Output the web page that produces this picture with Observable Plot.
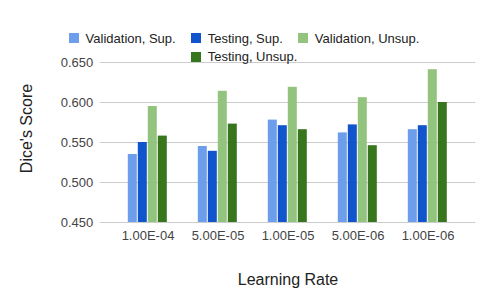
<!DOCTYPE html>
<html><head><meta charset="utf-8">
<script src="https://cdn.jsdelivr.net/npm/d3@7"></script>
<script src="https://cdn.jsdelivr.net/npm/@observablehq/plot@0.6"></script>
<style>
body{margin:0;background:#fff;font-family:Arial,"Liberation Sans",sans-serif;}
#wrap{position:relative;width:491px;height:303px;}
#wrap svg{position:absolute;left:0;top:0;}
#legend{position:absolute;left:59px;top:29px;width:370px;display:flex;flex-wrap:wrap;justify-content:center;font-size:13px;color:#222;}
.item{display:flex;align-items:center;margin:0 7.5px;height:18.4px;white-space:nowrap}
.sw{width:10px;height:10px;margin-right:7px;flex:none}
</style></head><body><div id="wrap"><div id="legend"></div></div>
<script>
const categories = ["1.00E-04","5.00E-05","1.00E-05","5.00E-06","1.00E-06"];
const series = ["Validation, Sup.","Testing, Sup.","Validation, Unsup.","Testing, Unsup."];
const colors = ["#6d9eeb","#1155cc","#93c47d","#38761d"];
const valSup    = [0.535,0.545,0.578,0.562,0.566];
const testSup   = [0.550,0.539,0.571,0.572,0.571];
const valUnsup  = [0.595,0.614,0.619,0.606,0.641];
const testUnsup = [0.558,0.573,0.566,0.546,0.600];
const yTicks = [0.45,0.50,0.55,0.60,0.65];
const yTitle = "Dice's Score";
const xTitle = "Learning Rate";

const seriesValues = [valSup,testSup,valUnsup,testUnsup];
const data = categories.flatMap((c,i)=>seriesValues.map((arr,j)=>({cat:c, series:series[j], value:arr[i]})));

const OUTER = 16.2; // outer gap between plot edge and first/last group
const chart = Plot.plot({
  width:491, height:303,
  marginLeft:98+OUTER, marginRight:15+OUTER, marginTop:62, marginBottom:81,
  style:{fontFamily:"Arial, 'Liberation Sans', sans-serif", fontSize:"13px", background:"transparent", color:"#444"},
  fx:{domain:categories, paddingInner:0.1, paddingOuter:0, label:null, tickSize:0, tickPadding:8},
  x:{domain:series, paddingInner:0.1, paddingOuter:0.935, axis:null},
  y:{domain:[0.45,0.65], axis:null},
  color:{domain:series, range:colors},
  marks:[
    Plot.ruleY(yTicks, {stroke:"#cccccc", strokeWidth:1, insetLeft:-OUTER, insetRight:-OUTER}),
    Plot.barY(data, {fx:"cat", x:"series", y1:0.45, y2:"value", fill:"series"}),
    Plot.axisY(yTicks, {anchor:"left", tickSize:0, tickPadding:7+OUTER, tickFormat:d3.format(".3f"), label:null, fill:"#444", fontSize:13}),
    Plot.text([yTitle], {facet:"super", frameAnchor:"left", textAnchor:"middle", dx:25-(98+OUTER), dy:-14, rotate:-90, lineAnchor:"middle", fontSize:16, fill:"#222"}),
    Plot.text([xTitle], {facet:"super", frameAnchor:"bottom", textAnchor:"middle", dy:57, lineAnchor:"middle", fontSize:16, fill:"#222"})
  ]
});
document.getElementById("wrap").insertBefore(chart, document.getElementById("legend"));

const legend = document.getElementById("legend");
series.forEach((s,i)=>{
  const it = document.createElement("div"); it.className="item";
  const sw = document.createElement("div"); sw.className="sw"; sw.style.background=colors[i];
  const tx = document.createElement("span"); tx.textContent=s;
  it.appendChild(sw); it.appendChild(tx); legend.appendChild(it);
});
</script></body></html>
